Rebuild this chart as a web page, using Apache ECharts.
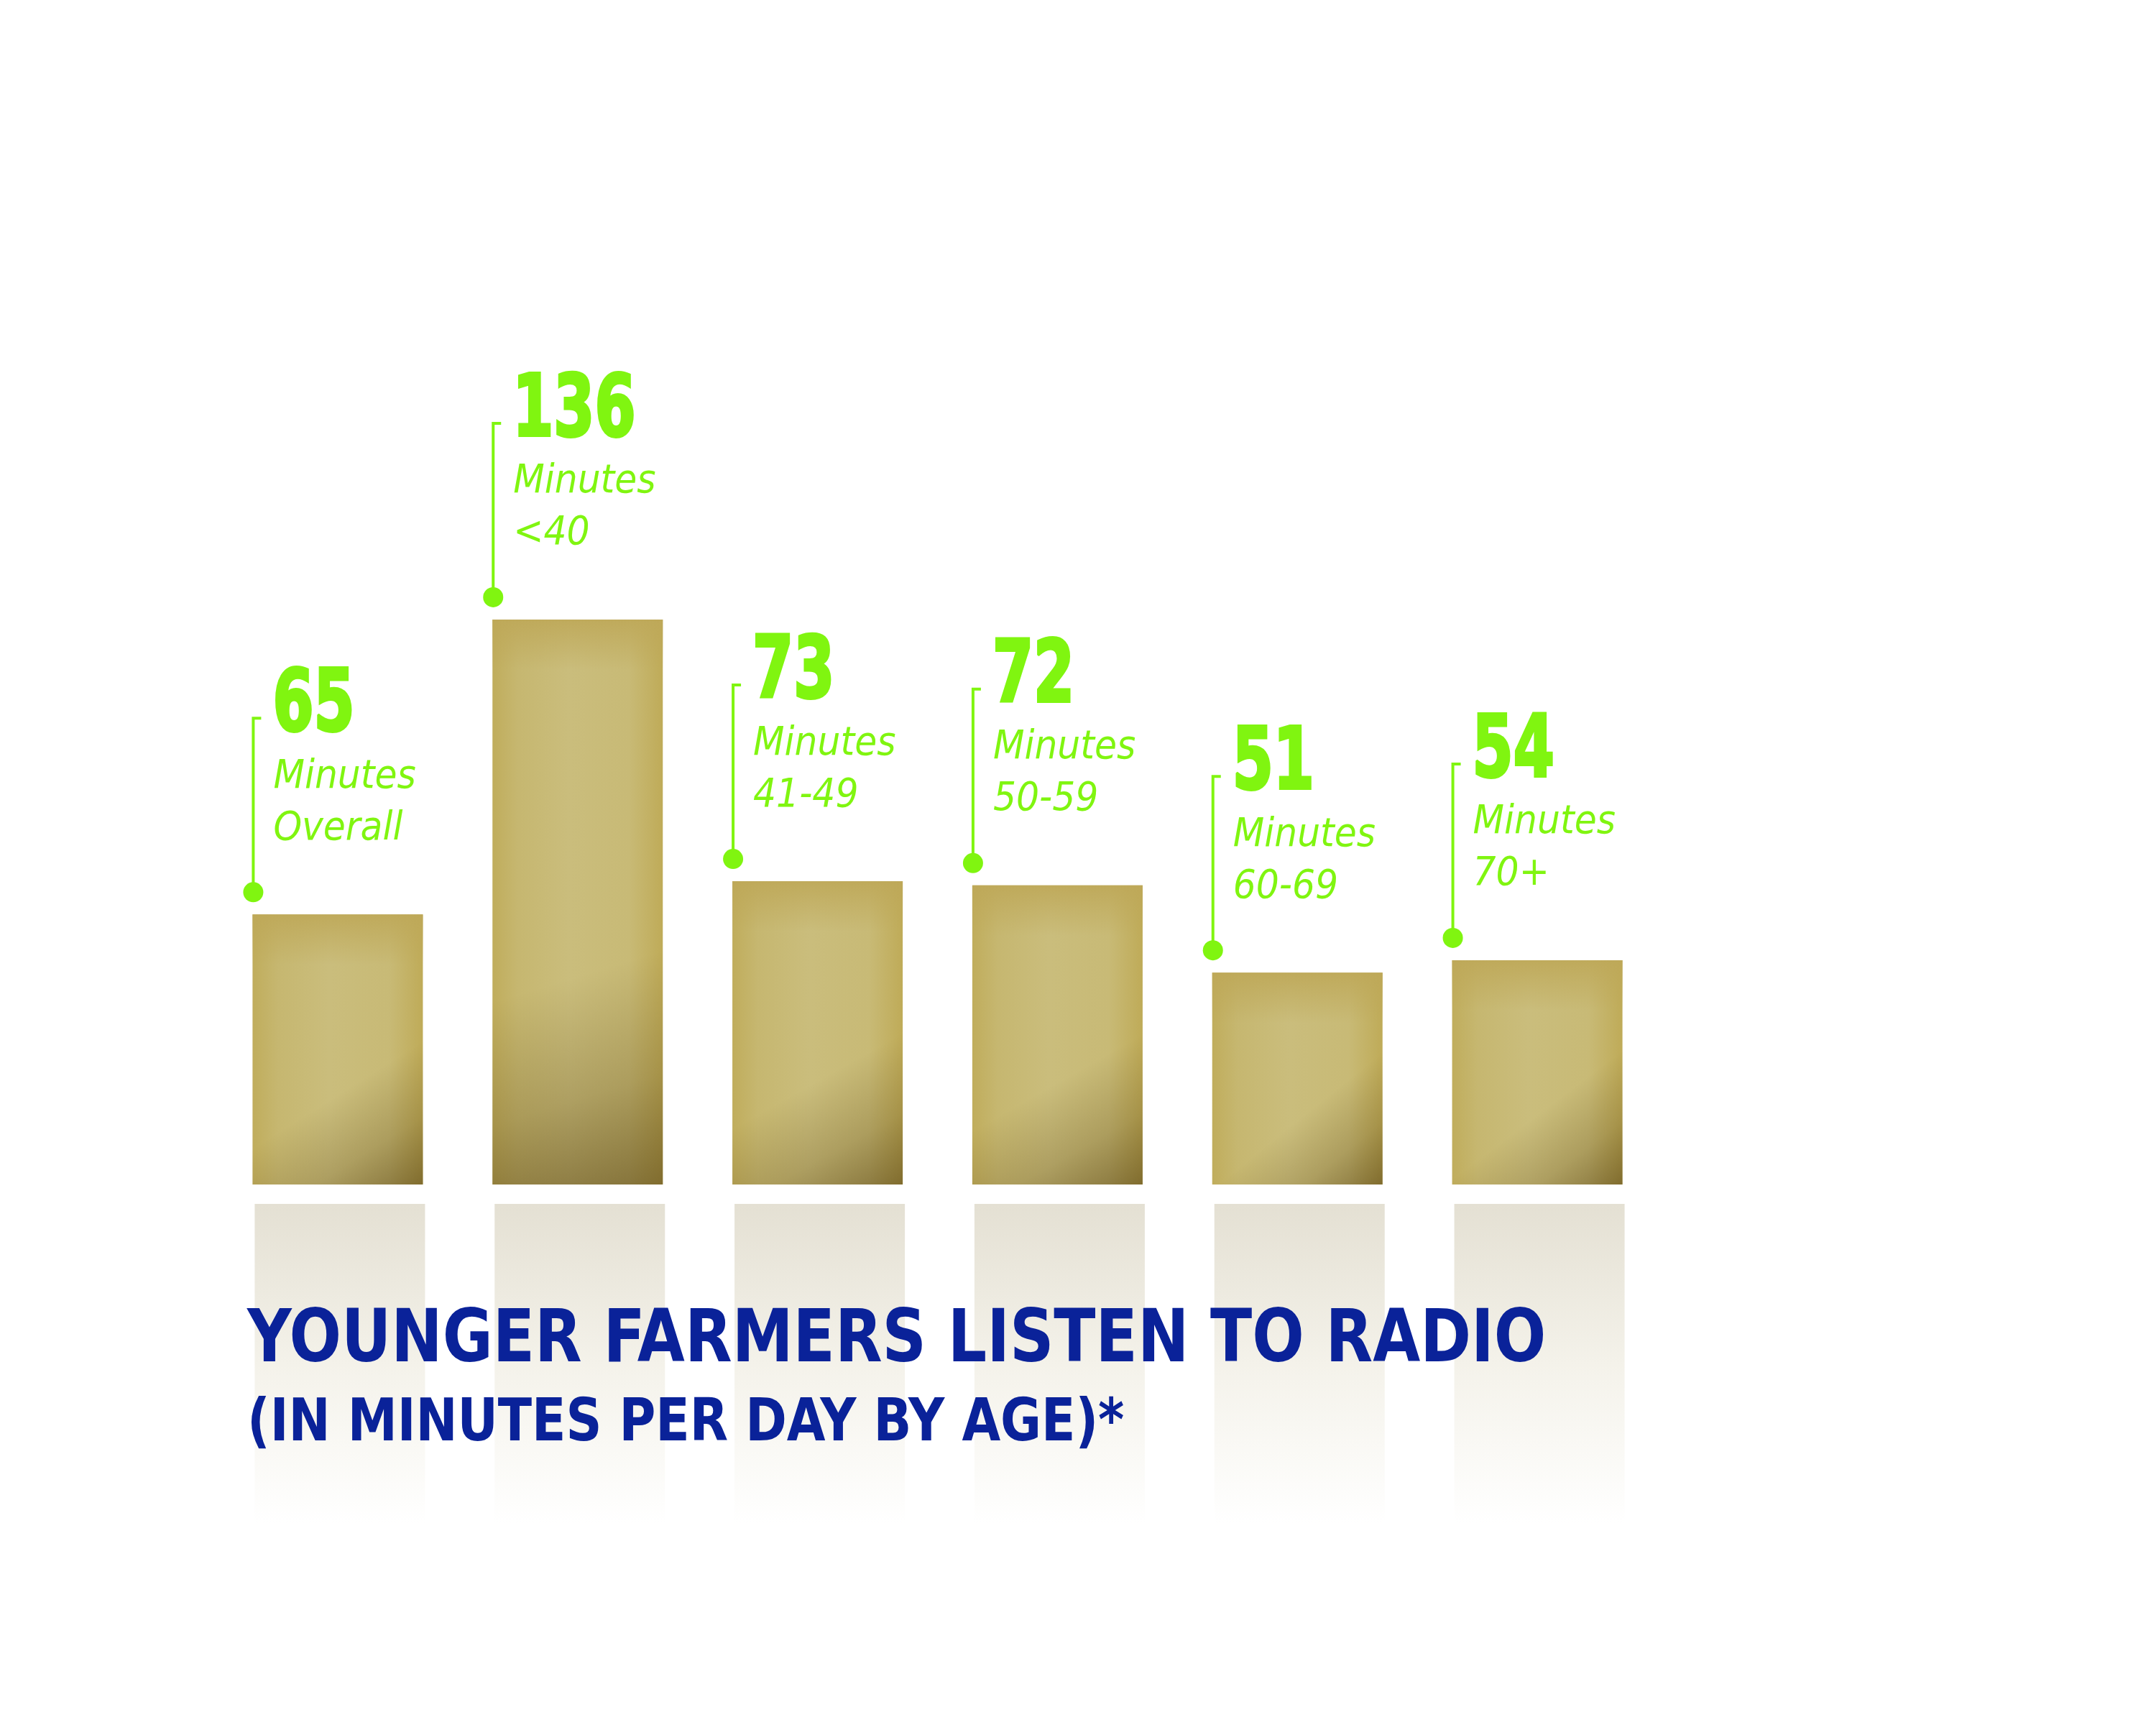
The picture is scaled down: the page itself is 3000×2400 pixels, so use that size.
<!doctype html>
<html>
<head>
<meta charset="utf-8">
<title>Younger farmers listen to radio</title>
<script src="https://cdn.jsdelivr.net/npm/echarts@6/dist/echarts.min.js"></script>
<style>
	html, body {
		margin: 0;
		padding: 0;
		background: #fff;
	}

	#main {
		width: 3000px;
		height: 2400px;
	}
</style>
</head>
<body>
<div id="main"></div>
<script>
	// data
	var categories = ['Overall', '<40', '41-49', '50-59', '60-69', '70+'];
	var minutes = [65, 136, 73, 72, 51, 54];
	var unitLabel = 'Minutes';
	var titleText = 'YOUNGER FARMERS LISTEN TO RADIO';
	var subtitleText = '(IN MINUTES PER DAY BY AGE)*';

	var green = '#80f510';
	var navy = '#0a2299';
	var condFont = '"DejaVu Sans Condensed", "DejaVu Sans", sans-serif';

	var chart = echarts.init(document.getElementById('main'));

	function renderBar(params, api) {
		var idx = api.value(0);
		var val = api.value(1);
		var top = api.coord([idx, val]);
		var base = api.coord([idx, 0]);
		var w = api.size([1, 0])[0] * 0.71;
		var left = top[0] - w / 2;
		var h = base[1] - top[1];

		var dotY = top[1] - 31;
		var lineTop = dotY - 242;

		return {
			type: 'group',
			children: [
				// faded reflection under the baseline
				{
					type: 'rect',
					shape: { x: left + 3, y: base[1] + 27, width: w, height: 445 },
					style: {
						fill: new echarts.graphic.LinearGradient(0, 0, 0, 1, [
							{ offset: 0, color: '#e4e0d3' },
							{ offset: 0.5, color: '#f4f2ea' },
							{ offset: 1, color: '#ffffff' }
						])
					}
				},
				// bar body, lighter in the middle
				{
					type: 'rect',
					shape: { x: left, y: top[1], width: w, height: h },
					style: {
						fill: new echarts.graphic.LinearGradient(0, 0, 1, 0, [
							{ offset: 0, color: '#c0ad5c' },
							{ offset: 0.15, color: '#c6b770' },
							{ offset: 0.45, color: '#cabd7c' },
							{ offset: 0.8, color: '#c8ba76' },
							{ offset: 1, color: '#bfab58' }
						])
					}
				},
				// darker rim along the top
				{
					type: 'rect',
					shape: { x: left, y: top[1], width: w, height: 70 },
					style: {
						fill: new echarts.graphic.LinearGradient(0, top[1], 0, top[1] + 70, [
							{ offset: 0, color: 'rgba(190,168,88,0.9)' },
							{ offset: 1, color: 'rgba(190,168,88,0)' }
						], true)
					}
				},
				// shading into the bottom right corner
				{
					type: 'rect',
					shape: { x: left, y: top[1], width: w, height: h },
					style: {
						fill: new echarts.graphic.LinearGradient(0, 0, 1, 1, [
							{ offset: 0, color: 'rgba(90,70,20,0)' },
							{ offset: 0.62, color: 'rgba(90,70,20,0)' },
							{ offset: 0.82, color: 'rgba(90,70,20,0.25)' },
							{ offset: 1, color: 'rgba(90,70,20,0.62)' }
						])
					}
				},
				// leader line with dot
				{
					type: 'polyline',
					shape: { points: [[left + 12, lineTop], [left + 1, lineTop], [left + 1, dotY]] },
					style: { stroke: green, lineWidth: 4, fill: null }
				},
				{
					type: 'circle',
					shape: { cx: left + 1, cy: dotY, r: 14 },
					style: { fill: green }
				},
				// labels
				{
					type: 'text',
					x: left + 28,
					y: lineTop - 14,
					scaleX: 0.76,
					style: {
						text: String(val),
						fill: green,
						stroke: green,
						lineWidth: 4,
						fontFamily: condFont,
						fontWeight: 'bold',
						fontSize: 120,
						verticalAlign: 'middle'
					}
				},
				{
					type: 'text',
					x: left + 29,
					y: lineTop + 82,
					style: {
						text: unitLabel,
						fill: green,
						fontFamily: condFont,
						fontStyle: 'italic',
						fontSize: 56,
						verticalAlign: 'middle'
					}
				},
				{
					type: 'text',
					x: left + 29,
					y: lineTop + 154,
					style: {
						text: categories[idx],
						fill: green,
						fontFamily: condFont,
						fontStyle: 'italic',
						fontSize: 56,
						verticalAlign: 'middle'
					}
				}
			]
		};
	}

	var option = {
		backgroundColor: '#fff',
		animation: false,
		graphic: [
			{
				type: 'text',
				z: 100,
				x: 344,
				y: 1816,
				scaleX: 0.93,
				style: {
					text: titleText,
					fill: navy,
					fontFamily: condFont,
					fontWeight: 'bold',
					fontSize: 102,
					verticalAlign: 'top'
				}
			},
			{
				type: 'text',
				z: 100,
				x: 344,
				y: 1942,
				scaleX: 0.94,
				style: {
					text: subtitleText,
					fill: navy,
					fontFamily: condFont,
					fontWeight: 'bold',
					fontSize: 82,
					verticalAlign: 'top'
				}
			}
		],
		grid: { left: 303, right: 694, top: 492, bottom: 752 },
		xAxis: {
			type: 'category',
			data: categories,
			show: false
		},
		yAxis: {
			type: 'value',
			min: 0,
			max: 200,
			show: false
		},
		series: [
			{
				type: 'custom',
				renderItem: renderBar,
				encode: { x: 0, y: 1 },
				data: minutes.map(function (v, i) { return [i, v]; })
			}
		]
	};
	chart.setOption(option);
</script>
</body>
</html>
